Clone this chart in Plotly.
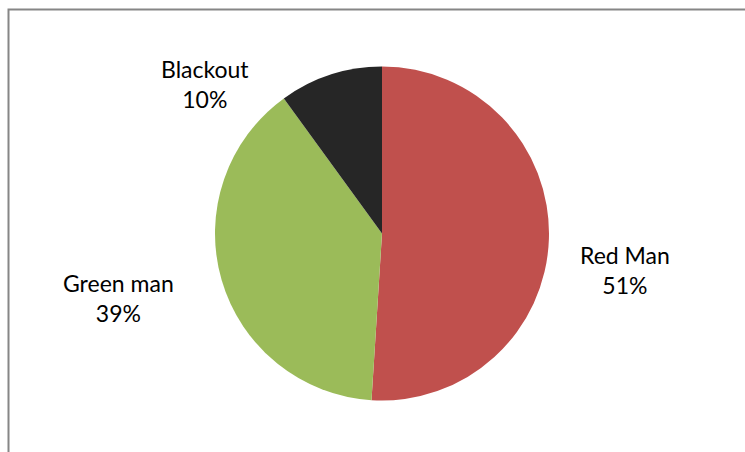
import plotly.graph_objects as go

# Traffic signal state shares
labels = ["Red Man", "Green man", "Blackout"]
values = [51, 39, 10]
colors = ["#C0504D", "#9BBB59", "#262626"]

W, H = 745, 452
cx, cy, r = 382, 233.5, 167

fig = go.Figure(go.Pie(
    labels=labels,
    values=values,
    sort=False,
    direction="clockwise",
    rotation=0,
    marker=dict(colors=colors, line=dict(width=0)),
    textinfo="none",
    hoverinfo="label+percent",
    showlegend=False,
    domain=dict(x=[(cx - r) / W, (cx + r) / W],
                y=[1 - (cy + r) / H, 1 - (cy - r) / H]),
))

# Data labels placed beside each slice
total = sum(values)
label_pos = {"Red Man": (625, 270), "Green man": (118, 298), "Blackout": (205, 84)}
for name, v in zip(labels, values):
    px, py = label_pos[name]
    fig.add_annotation(
        x=px / W, y=1 - py / H, xref="paper", yref="paper",
        xanchor="center", yanchor="middle",
        text=f"{name}<br>{round(100 * v / total)}%",
        showarrow=False, align="center",
        font=dict(family="Lato", size=23, color="#000000"),
    )

# Chart area frame
fig.add_shape(type="rect", xref="paper", yref="paper",
              x0=8.5 / W, y0=-0.1, x1=1.1, y1=1 - 9.5 / H,
              line=dict(color="#868686", width=2))

fig.update_layout(
    width=W, height=H,
    margin=dict(l=0, r=0, t=0, b=0),
    paper_bgcolor="white",
    plot_bgcolor="white",
)

fig.write_html("out.html")
